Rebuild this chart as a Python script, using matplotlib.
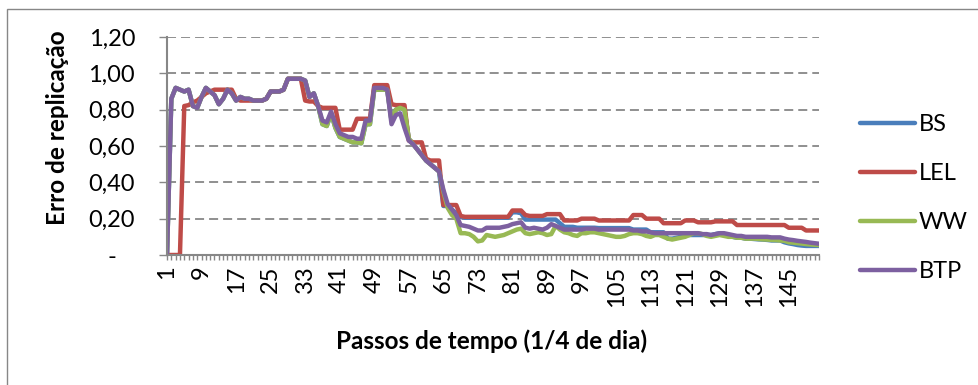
import matplotlib
matplotlib.use("Agg")
import matplotlib.pyplot as plt
from matplotlib.patches import Rectangle

plt.rcParams['font.family'] = ['Lato', 'DejaVu Sans']
plt.rcParams['lines.scale_dashes'] = False

# Time steps (quarter days)
steps = list(range(1, 153))

bs = [
    0, 0.86, 0.92, 0.91, 0.90, 0.91, 0.82, 0.81, 0.87, 0.92,
    0.90, 0.88, 0.83, 0.86, 0.91, 0.89, 0.85, 0.87, 0.86, 0.86,
    0.85, 0.85, 0.85, 0.86, 0.90, 0.90, 0.90, 0.91, 0.97, 0.97,
    0.97, 0.97, 0.96, 0.87, 0.89, 0.82, 0.72, 0.71, 0.78, 0.70,
    0.65, 0.64, 0.63, 0.62, 0.62, 0.615, 0.72, 0.72, 0.91, 0.91,
    0.91, 0.91, 0.74, 0.80, 0.81, 0.80, 0.64, 0.61, 0.58, 0.55,
    0.52, 0.50, 0.48, 0.46, 0.27, 0.27, 0.25, 0.23, 0.21, 0.205,
    0.205, 0.205, 0.205, 0.205, 0.205, 0.205, 0.205, 0.205, 0.205, 0.205,
    0.235, 0.235, 0.23, 0.195, 0.195, 0.195, 0.195, 0.195, 0.195, 0.195,
    0.195, 0.175, 0.155, 0.155, 0.155, 0.15, 0.15, 0.15, 0.15, 0.15,
    0.148, 0.148, 0.148, 0.148, 0.148, 0.148, 0.148, 0.148, 0.14, 0.14,
    0.14, 0.14, 0.125, 0.125, 0.125, 0.125, 0.09, 0.09, 0.095, 0.10,
    0.11, 0.11, 0.11, 0.11, 0.11, 0.11, 0.11, 0.115, 0.12, 0.11,
    0.105, 0.10, 0.095, 0.095, 0.09, 0.09, 0.088, 0.086, 0.085, 0.083,
    0.08, 0.08, 0.08, 0.07, 0.064, 0.06, 0.055, 0.052, 0.05, 0.05,
    0.05, 0.05,
]

lel = [
    0, 0, 0, 0, 0.82, 0.825, 0.84, 0.85, 0.87, 0.89,
    0.90, 0.91, 0.91, 0.91, 0.91, 0.91, 0.86, 0.85, 0.85, 0.85,
    0.85, 0.85, 0.85, 0.86, 0.90, 0.90, 0.90, 0.91, 0.97, 0.97,
    0.97, 0.97, 0.85, 0.845, 0.845, 0.82, 0.81, 0.81, 0.81, 0.81,
    0.69, 0.69, 0.69, 0.69, 0.75, 0.75, 0.75, 0.75, 0.935, 0.935,
    0.935, 0.935, 0.83, 0.825, 0.825, 0.825, 0.63, 0.62, 0.62, 0.62,
    0.53, 0.52, 0.52, 0.52, 0.275, 0.275, 0.275, 0.275, 0.215, 0.21,
    0.21, 0.21, 0.21, 0.21, 0.21, 0.21, 0.21, 0.21, 0.21, 0.21,
    0.245, 0.245, 0.245, 0.22, 0.215, 0.215, 0.215, 0.215, 0.225, 0.225,
    0.225, 0.225, 0.19, 0.19, 0.19, 0.19, 0.20, 0.20, 0.20, 0.20,
    0.19, 0.19, 0.19, 0.19, 0.19, 0.19, 0.19, 0.19, 0.22, 0.22,
    0.22, 0.20, 0.20, 0.20, 0.20, 0.175, 0.175, 0.175, 0.175, 0.175,
    0.19, 0.19, 0.19, 0.18, 0.18, 0.18, 0.18, 0.185, 0.185, 0.185,
    0.185, 0.185, 0.165, 0.165, 0.165, 0.165, 0.165, 0.165, 0.165, 0.165,
    0.165, 0.165, 0.165, 0.165, 0.15, 0.15, 0.15, 0.15, 0.135, 0.135,
    0.135, 0.135,
]

ww = [
    0, 0.86, 0.92, 0.91, 0.90, 0.91, 0.82, 0.81, 0.87, 0.92,
    0.90, 0.88, 0.83, 0.86, 0.91, 0.89, 0.85, 0.87, 0.86, 0.86,
    0.85, 0.85, 0.85, 0.86, 0.90, 0.90, 0.90, 0.91, 0.97, 0.97,
    0.97, 0.97, 0.96, 0.87, 0.89, 0.82, 0.72, 0.71, 0.78, 0.70,
    0.65, 0.64, 0.63, 0.62, 0.62, 0.615, 0.72, 0.72, 0.91, 0.91,
    0.91, 0.91, 0.74, 0.80, 0.81, 0.80, 0.64, 0.61, 0.58, 0.55,
    0.52, 0.50, 0.48, 0.46, 0.35, 0.26, 0.22, 0.20, 0.12, 0.12,
    0.115, 0.10, 0.075, 0.08, 0.11, 0.105, 0.10, 0.105, 0.11, 0.12,
    0.13, 0.14, 0.145, 0.12, 0.115, 0.12, 0.125, 0.12, 0.11, 0.115,
    0.16, 0.14, 0.125, 0.12, 0.11, 0.105, 0.12, 0.12, 0.125, 0.125,
    0.12, 0.115, 0.11, 0.105, 0.10, 0.10, 0.105, 0.115, 0.12, 0.12,
    0.115, 0.105, 0.10, 0.11, 0.11, 0.10, 0.09, 0.085, 0.09, 0.095,
    0.10, 0.11, 0.12, 0.12, 0.115, 0.105, 0.10, 0.105, 0.11, 0.105,
    0.10, 0.10, 0.095, 0.095, 0.09, 0.09, 0.09, 0.088, 0.086, 0.085,
    0.083, 0.082, 0.08, 0.078, 0.07, 0.068, 0.065, 0.063, 0.06, 0.058,
    0.056, 0.055,
]

btp = [
    0, 0.86, 0.92, 0.91, 0.90, 0.91, 0.82, 0.81, 0.87, 0.92,
    0.90, 0.88, 0.83, 0.86, 0.91, 0.89, 0.85, 0.87, 0.86, 0.86,
    0.85, 0.85, 0.85, 0.86, 0.90, 0.90, 0.90, 0.91, 0.97, 0.97,
    0.97, 0.97, 0.96, 0.87, 0.89, 0.82, 0.74, 0.73, 0.79, 0.72,
    0.67, 0.66, 0.65, 0.65, 0.64, 0.64, 0.74, 0.74, 0.92, 0.92,
    0.92, 0.91, 0.72, 0.77, 0.78, 0.70, 0.63, 0.61, 0.58, 0.55,
    0.52, 0.50, 0.48, 0.46, 0.36, 0.28, 0.25, 0.22, 0.165, 0.16,
    0.155, 0.145, 0.135, 0.135, 0.15, 0.15, 0.15, 0.15, 0.155, 0.16,
    0.17, 0.175, 0.18, 0.15, 0.145, 0.15, 0.145, 0.14, 0.15, 0.17,
    0.16, 0.15, 0.14, 0.14, 0.14, 0.14, 0.14, 0.145, 0.145, 0.145,
    0.14, 0.14, 0.14, 0.14, 0.14, 0.14, 0.14, 0.14, 0.135, 0.135,
    0.13, 0.13, 0.125, 0.12, 0.12, 0.12, 0.12, 0.12, 0.12, 0.12,
    0.12, 0.12, 0.12, 0.12, 0.115, 0.115, 0.11, 0.115, 0.12, 0.12,
    0.115, 0.11, 0.105, 0.105, 0.10, 0.10, 0.10, 0.10, 0.10, 0.10,
    0.097, 0.097, 0.097, 0.09, 0.085, 0.082, 0.078, 0.075, 0.072, 0.068,
    0.065, 0.062,
]

series_names = ['BS', 'LEL', 'WW', 'BTP']
series_colors = ['#4A7EBB', '#BE4B48', '#98B954', '#7D60A0']

y_ticks = [0, 0.2, 0.4, 0.6, 0.8, 1.0, 1.2]
y_tick_labels = ['-   ', '0,20', '0,40', '0,60', '0,80', '1,00', '1,20']
x_tick_steps = list(range(1, 153, 8))

W, H = 979, 385
fig = plt.figure(figsize=(W / 100, H / 100), dpi=100)
ax = fig.add_axes([167 / W, (H - 255) / H, (819 - 167) / W, (255 - 37) / H])

for vals, name, col in zip([bs, lel, ww, btp], series_names, series_colors):
    ax.plot(steps, vals, color=col, lw=3.2, label=name,
            solid_joinstyle='round', solid_capstyle='round')

ax.set_xlim(1, 152)
ax.set_ylim(0, 1.2)

grey = '#878787'
ax.set_yticks(y_ticks)
ax.set_yticklabels(y_tick_labels)
ax.yaxis.grid(True, linestyle=(0, (6.5, 3.6)), color=grey, lw=1.3)
ax.set_axisbelow(True)

ax.set_xticks(x_tick_steps)
ax.set_xticklabels([str(s) for s in x_tick_steps], rotation=90)
ax.set_xticks(steps, minor=True)

for side in ['top', 'right']:
    ax.spines[side].set_visible(False)
for side in ['left', 'bottom']:
    ax.spines[side].set_color(grey)
    ax.spines[side].set_linewidth(1.5)

ax.tick_params(axis='y', which='major', length=6, width=1, color=grey,
               labelsize=17, pad=17)
ax.tick_params(axis='x', which='both', length=3.5, width=1, color=grey,
               labelsize=17, pad=4)

fig.text(492 / W, 1 - 341 / H, 'Passos de tempo (1/4 de dia)',
         ha='center', va='center', fontsize=17.5, fontweight='bold')
fig.text(58 / W, 1 - 128 / H, 'Erro de replicação', rotation=90,
         ha='center', va='center', fontsize=17.5, fontweight='bold')

leg = ax.legend(loc='upper left', bbox_to_anchor=(860 / W, 1 - 114 / H),
                bbox_transform=fig.transFigure, frameon=False, fontsize=17,
                handlelength=2.35, handletextpad=0.13, labelspacing=1.19,
                borderpad=0, borderaxespad=0)

fig.add_artist(Rectangle((7 / W, -0.1), 1.2, 1 - 9 / H + 0.1,
                         transform=fig.transFigure, fill=False,
                         edgecolor=grey, lw=1))

fig.savefig('out.png', dpi=100)
